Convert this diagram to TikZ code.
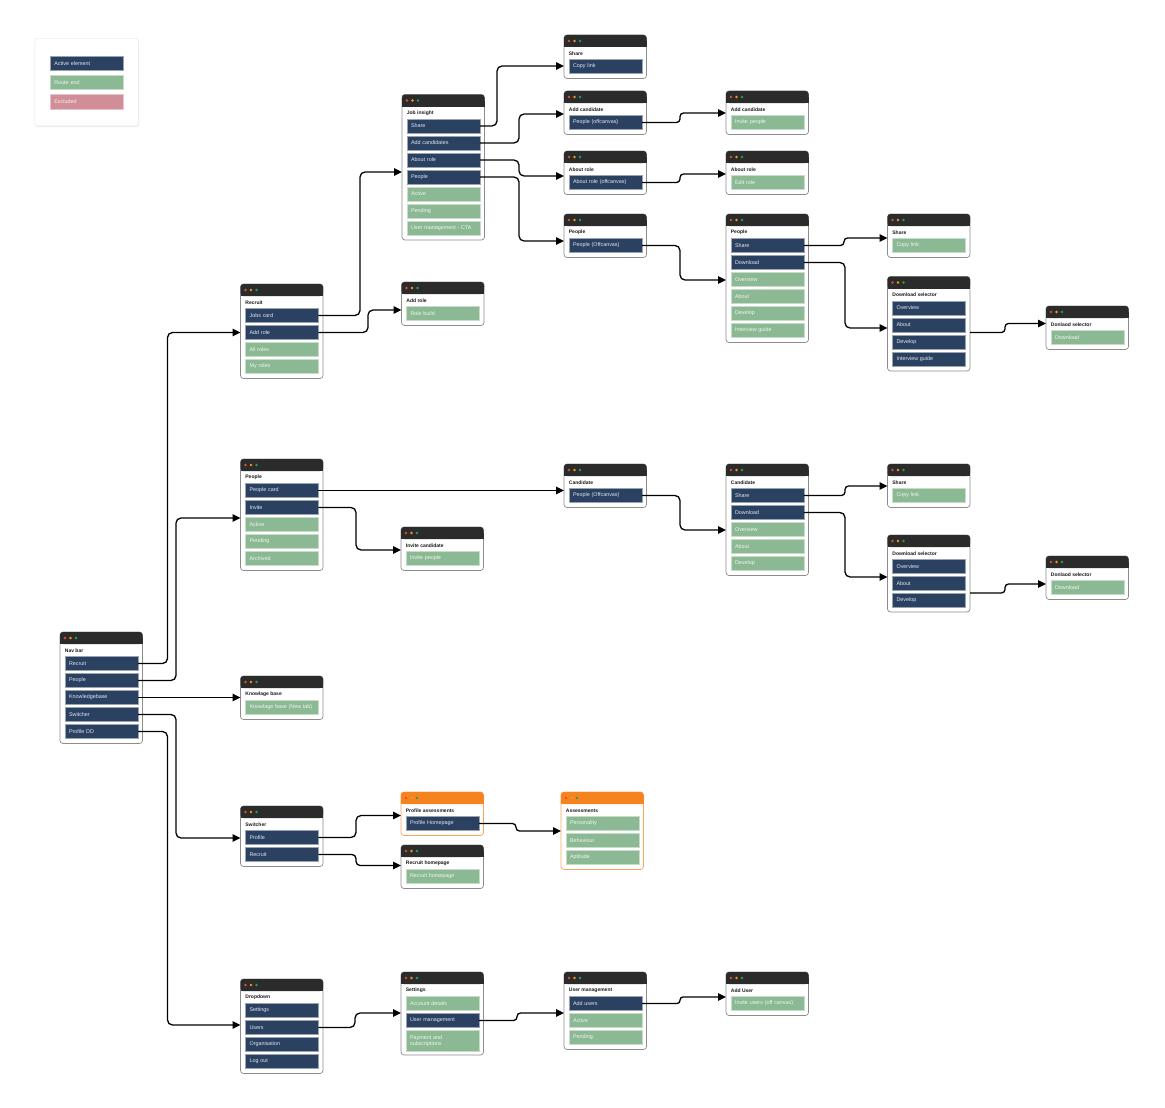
\documentclass[tikz,border=0pt]{standalone}
\usepackage{fontspec}
\setmainfont{Liberation Sans}
\usetikzlibrary{arrows.meta}
\definecolor{hdr}{HTML}{2B2B2B}
\definecolor{ohdr}{HTML}{F5841F}
\definecolor{obord}{HTML}{F7A55A}
\definecolor{winborder}{HTML}{8C8C8C}
\definecolor{navy}{HTML}{2B4162}
\definecolor{navyedge}{HTML}{9AA3B0}
\definecolor{routegreen}{HTML}{8BB993}
\definecolor{greenedge}{HTML}{C8DCC9}
\definecolor{navytext}{HTML}{E3E8F0}
\definecolor{greentext}{HTML}{F2F7F2}
\definecolor{excl}{HTML}{D18E98}
\definecolor{excledge}{HTML}{E8C4CA}
\definecolor{dotr}{HTML}{E24A3B}
\definecolor{doto}{HTML}{F29A1F}
\definecolor{dotg}{HTML}{2E9E48}
\definecolor{legborder}{HTML}{E4E4E4}
\definecolor{titletext}{HTML}{1A1A1A}
\tikzset{
  winbox/.style={anchor=north west, minimum width=82.5, inner sep=0pt, outer sep=0pt, fill=white, line width=0.7pt, rounded corners=3pt},
  itemD/.style={anchor=north west, fill=navy, draw=navyedge, line width=0.4pt, text=navytext, text width=64.4pt, inner xsep=4.3pt, inner ysep=0pt, outer sep=0pt, minimum height=14, align=left, font=\fontsize{5.4}{6}\selectfont},
  itemG/.style={itemD, fill=routegreen, draw=greenedge, text=greentext},
  itemE/.style={itemD, fill=excl, draw=excledge, text=greentext},
  wtitle/.style={anchor=west, inner sep=0pt, text=titletext, font=\bfseries\fontsize{5}{6}\selectfont},
  conn/.style={line width=1.3pt, rounded corners=5pt, -{Triangle[length=8pt,width=7.5pt]}},
}
% window: [border]{name}{left}{top}{bottom}{title}{header colour}
\newcommand\mkwin[7][winborder]{%
  \def\wL{#3}\def\wT{#4}%
  \node[winbox, draw=#1, minimum height={#5-#4}] (#2) at (#3,#4) {};
  \fill[#7, rounded corners=3pt] (#3,#4) rectangle ++(82.5,12);
  \fill[#7] (#3,#4+6) rectangle ++(82.5,6);
  \fill[dotr] (#3+5,#4+6) circle (1.35pt);
  \fill[doto] (#3+10.5,#4+6) circle (1.35pt);
  \fill[dotg] (#3+16,#4+6) circle (1.35pt);
  \node[wtitle] (#2-t) at (#3+4.7,#4+18.5) {#6};
}
% item: [extra]{name}{style}{index}{text}
\newcommand\itm[5][]{%
  \node[#3,#1] (#2) at (\wL+4.75,\wT+24.5+17*#4) {#5};
}
% connector: [radius]{source}{x of vertical}{target}{y at target}
\newcommand\conn[5][5pt]{%
  \draw[conn, rounded corners=#1] (#2.east) -- (#2.east -| #3,0) |- (#4.west |- 0,#5);
}
\begin{document}
\begin{tikzpicture}[x=1pt,y=-1pt]
\useasboundingbox[fill=white] (0,0) rectangle (1165,1108);

% legend
\fill[black!6, rounded corners=2pt] (35.7,39.5) rectangle (139.2,127);
\node[anchor=north west, draw=legborder, fill=white, rounded corners=2pt, minimum width=103.3, minimum height=87.4, inner sep=0pt] (legend) at (34.7,38.3) {};
\node[itemD, text width=64.7pt, minimum height=14.5] (lg1) at (50,56) {Active element};
\node[itemG, text width=64.7pt, minimum height=14.5] (lg2) at (50,75) {Route end};
\node[itemE, text width=64.7pt, minimum height=14.5] (lg3) at (50,94.3) {Excluded};

% column 0
\mkwin{nav}{60}{632}{743.5}{Nav bar}{hdr}
\itm{navrec}{itemD}{0}{Recruit}
\itm{navppl}{itemD}{1}{People}
\itm{navkb}{itemD}{2}{Knowledgebase}
\itm{navsw}{itemD}{3}{Switcher}
\itm{navpd}{itemD}{4}{Profile DD}

% column 1
\mkwin{rec}{240.5}{284}{378.5}{Recruit}{hdr}
\itm{recjc}{itemD}{0}{Jobs card}
\itm{recar}{itemD}{1}{Add role}
\itm{recall}{itemG}{2}{All roles}
\itm{recmy}{itemG}{3}{My roles}

\mkwin{ppl}{240.5}{459}{570.5}{People}{hdr}
\itm{pplpc}{itemD}{0}{People card}
\itm{pplinv}{itemD}{1}{Invite}
\itm{pplact}{itemG}{2}{Active}
\itm{pplpen}{itemG}{3}{Pending}
\itm{pplarc}{itemG}{4}{Archived}

\mkwin{kb}{240.5}{676}{719.5}{Knowlage base}{hdr}
\itm{kbi}{itemG}{0}{Knowlage base (New tab)}

\mkwin{sw}{240.5}{806}{866.5}{Switcher}{hdr}
\itm{swp}{itemD}{0}{Profile}
\itm{swr}{itemD}{1}{Recruit}

\mkwin{dd}{240.5}{979}{1073.5}{Dropdown}{hdr}
\itm{ddset}{itemD}{0}{Settings}
\itm{ddusr}{itemD}{1}{Users}
\itm{ddorg}{itemD}{2}{Organisation}
\itm{ddlog}{itemD}{3}{Log out}

% column 2
\mkwin{ji}{402}{94.5}{240}{Job insight}{hdr}
\itm{jish}{itemD}{0}{Share}
\itm{jiac}{itemD}{1}{Add candidates}
\itm{jiab}{itemD}{2}{About role}
\itm{jipp}{itemD}{3}{People}
\itm{jiact}{itemG}{4}{Active}
\itm{jipen}{itemG}{5}{Pending}
\itm{jium}{itemG}{6}{User management - CTA}

\mkwin{ar}{401.5}{282}{325.5}{Add role}{hdr}
\itm{arrb}{itemG}{0}{Role build}

\mkwin{ic}{401}{527}{570.5}{Invite candidate}{hdr}
\itm{icip}{itemG}{0}{Invite people}

\mkwin[obord]{pa}{401}{792}{835.5}{Profile assessments}{ohdr}
\itm{paph}{itemD}{0}{Profile Homepage}

\mkwin{rh}{401}{845}{888.5}{Recruit homepage}{hdr}
\itm{rhrh}{itemG}{0}{Recruit homepage}

\mkwin{set}{401}{972}{1055}{Settings}{hdr}
\itm{setad}{itemG}{0}{Account details}
\itm{setum}{itemD}{1}{User management}
\itm[minimum height=20.5]{setpay}{itemG}{2}{Payment and\\subscriptions}

% column 3
\mkwin{sha}{564}{35}{78.5}{Share}{hdr}
\itm{shacl}{itemD}{0}{Copy link}

\mkwin{aca}{564}{91}{134.5}{Add candidate}{hdr}
\itm{acapo}{itemD}{0}{People (offcanvas)}

\mkwin{aba}{564}{151}{194.5}{About role}{hdr}
\itm{abaro}{itemD}{0}{About role (offcanvas)}

\mkwin{poa}{564}{214}{257.5}{People}{hdr}
\itm{poapo}{itemD}{0}{People (Offcanvas)}

\mkwin{cda}{564}{464}{507.5}{Candidate}{hdr}
\itm{cdapo}{itemD}{0}{People (Offcanvas)}

\mkwin[obord]{asm}{561}{792}{869.5}{Assessments}{ohdr}
\itm{asmp}{itemG}{0}{Personality}
\itm{asmb}{itemG}{1}{Behaviour}
\itm{asma}{itemG}{2}{Aptitude}

\mkwin{um}{564}{972}{1049.5}{User management}{hdr}
\itm{umau}{itemD}{0}{Add users}
\itm{umact}{itemG}{1}{Active}
\itm{umpen}{itemG}{2}{Pending}

% column 4
\mkwin{acb}{726}{91}{134.5}{Add candidate}{hdr}
\itm{acbip}{itemG}{0}{Invite people}

\mkwin{abb}{726}{151}{194.5}{About role}{hdr}
\itm{abber}{itemG}{0}{Edit role}

\mkwin{pr}{726}{214}{342.5}{People}{hdr}
\itm{prsh}{itemD}{0}{Share}
\itm{prdl}{itemD}{1}{Download}
\itm{prov}{itemG}{2}{Overview}
\itm{prab}{itemG}{3}{About}
\itm{prdv}{itemG}{4}{Develop}
\itm{prig}{itemG}{5}{Interview guide}

\mkwin{cdb}{726}{464}{575.5}{Candidate}{hdr}
\itm{cdbsh}{itemD}{0}{Share}
\itm{cdbdl}{itemD}{1}{Download}
\itm{cdbov}{itemG}{2}{Overview}
\itm{cdbab}{itemG}{3}{About}
\itm{cdbdv}{itemG}{4}{Develop}

\mkwin{au}{726}{972}{1015.5}{Add User}{hdr}
\itm{auiu}{itemG}{0}{Invite users (off canvas)}

% column 5
\mkwin{shb}{887.5}{214}{257.5}{Share}{hdr}
\itm{shbcl}{itemG}{0}{Copy link}

\mkwin{dsa}{887.5}{276.5}{371}{Download selector}{hdr}
\itm{dsaov}{itemD}{0}{Overview}
\itm{dsaab}{itemD}{1}{About}
\itm{dsadv}{itemD}{2}{Develop}
\itm{dsaig}{itemD}{3}{Interview guide}

\mkwin{shc}{887.5}{464}{507.5}{Share}{hdr}
\itm{shccl}{itemG}{0}{Copy link}

\mkwin{dsb}{887.5}{535}{612}{Download selector}{hdr}
\itm{dsbov}{itemD}{0}{Overview}
\itm{dsbab}{itemD}{1}{About}
\itm{dsbdv}{itemD}{2}{Develop}

% column 6
\mkwin{dla}{1046}{306}{349.5}{Donlaod selector}{hdr}
\itm{dladl}{itemG}{0}{Download}

\mkwin{dlb}{1046}{556}{599.5}{Donlaod selector}{hdr}
\itm{dlbdl}{itemG}{0}{Download}

% connectors
\conn{navrec}{167.5}{rec}{332.5}
\conn{navppl}{176}{ppl}{518}
\draw[conn] (navkb.east) -- (kb.west |- navkb.east);
\conn{navsw}{176}{sw}{838}
\conn{navpd}{167.5}{dd}{1025}

\conn{recjc}{360}{ji}{172}
\conn{recar}{368}{ar}{310}

\conn{jish}{497}{sha}{66}
\conn{jiac}{519}{aca}{114}
\conn{jiab}{519}{aba}{176}
\conn{jipp}{519}{poa}{241}

\conn[3.5pt]{acapo}{680}{acb}{113}
\conn[3.5pt]{abaro}{680}{abb}{174}
\conn{poapo}{680}{pr}{280}

\conn[3.5pt]{prsh}{844}{shb}{238}
\conn{prdl}{845}{dsa}{328}
\draw[conn, rounded corners=3.5pt] (dsa.east |- 0,332.5) -- (1005,332.5) |- (dla.west |- 0,323.5);

\draw[conn] (pplpc.east) -- (cda.west |- pplpc.east);
\conn{pplinv}{356}{ic}{550}

\conn{cdapo}{680}{cdb}{530}
\conn[3.5pt]{cdbsh}{845}{shc}{486}
\conn{cdbdl}{845}{dsb}{577}
\draw[conn, rounded corners=3.5pt] (dsb.east |- 0,593) -- (1005,593) |- (dlb.west |- 0,584);

\conn{swp}{356}{pa}{815.5}
\conn[4pt]{swr}{356}{rh}{865.5}
\conn[3.5pt]{paph}{516}{asm}{831}

\conn{ddusr}{355}{set}{1013}
\conn[3.5pt]{setum}{517}{um}{1013}
\conn[3pt]{umau}{680}{au}{997}
\end{tikzpicture}
\end{document}
